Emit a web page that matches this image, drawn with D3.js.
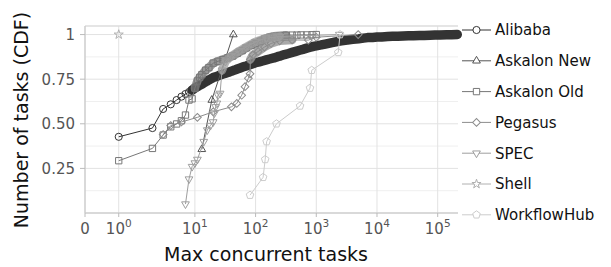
<!DOCTYPE html>
<html>
  <head>
    <meta charset="UTF-8">
    <script src="https://d3js.org/d3.v7.min.js"></script>
    <style>
      body { margin: 0; background: #fff; }
      text { font-family: "DejaVu Sans", sans-serif; }
      .grid line { stroke: #e2e2e2; stroke-width: 1; }
      .grid.minor line { stroke: #efefef; }
      .tick-label { fill: #555; font-size: 15px; }
    </style>
    <title>Max concurrent tasks CDF</title>
  </head>
  <body>
    <svg id="plot" width="611" height="267"></svg>
    <script>
      // series, in drawing order
      const seriesNames = ["Alibaba", "Askalon New", "Askalon Old", "Pegasus", "SPEC", "Shell", "WorkflowHub"];
      const seriesColors = ["#333333", "#555555", "#777777", "#8c8c8c", "#9e9e9e", "#b0b0b0", "#cccccc"];
      const seriesShapes = ["circle", "triangleUp", "square", "diamond", "triangleDown", "star", "pentagon"];
      // x range where a series has so many points that its markers merge into a band
      const denseRanges = [[9, 1e9], null, [10, 320], [82, 400], [28, 250], null, null];

      // [max concurrent tasks, CDF]
      const alibaba = [[1,.427],[2,.476],[3,.583],[4,.609],[5,.633],[6,.652],[7,.667],[8,.678],[9,.689],[10,.700],
        [11,.708],[12,.716],[13,.722],[14,.729],[15,.735],[16,.740],[18,.750],[20,.759],[22,.764],[24,.768],
        [27,.775],[30,.780],[33,.785],[36,.789],[40,.795],[45,.801],[50,.807],[56,.813],[63,.819],[70,.824],
        [80,.831],[90,.837],[100,.842],[115,.847],[130,.852],[150,.858],[170,.863],[200,.869],[230,.876],[260,.881],
        [300,.888],[350,.894],[400,.900],[460,.906],[530,.912],[600,.917],[700,.924],[800,.929],[900,.934],[1000,.937],
        [1200,.942],[1400,.947],[1600,.951],[1900,.956],[2200,.961],[2600,.965],[3000,.968],[3500,.971],[4000,.973],
        [5000,.977],[6000,.980],[7000,.983],[8500,.984],[10000,.986],[12000,.987],[15000,.989],[18000,.990],
        [22000,.991],[27000,.992],[33000,.993],[40000,.994],[50000,.995],[60000,.995],[75000,.996],[90000,.997],
        [110000,.998],[140000,.999],[170000,.999],[210000,1]];
      const askalonNew = [[13,.357],[19,.633],[43,1]];
      const askalonOld = [[1,.293],[2,.362],[3,.437],[4,.483],[5,.499],[6,.517],[7,.549],[8,.633],[9,.64],[10,.70],
        [11,.74],[12,.76],[13,.775],[15,.80],[17,.815],[20,.84],[24,.85],[29,.86],[35,.87],[42,.88],[50,.895],
        [60,.91],[70,.925],[85,.94],[100,.95],[120,.963],[140,.975],[170,.985],[200,.99],[250,.993],[320,.996],
        [400,.997],[480,.997],[560,.998],[700,.998],[850,.999],[1000,1]];
      const pegasus = [[3,.44],[4,.49],[6,.51],[11,.536],[20,.567],[40,.595],[49,.614],[59,.66],[67,.708],[76,.755],
        [81,.78],[82,.86],[90,.885],[110,.905],[140,.93],[180,.95],[250,.965],[400,.97],[740,.969],[1000,.985],[4900,1]];
      const spec = [[7,.05],[8,.19],[9,.26],[10,.28],[11,.30],[14,.40],[16,.465],[18,.49],[20,.51],[21,.56],[22,.595],
        [23,.615],[24,.66],[26,.67],[28,.80],[32,.85],[40,.88],[55,.91],[70,.93],[100,.96],[150,.98],
        [250,.99],[2400,1]];
      const shell = [[1,1]];
      const workflowHub = [[81,.1],[133,.2],[144,.3],[152,.4],[221,.5],[540,.6],[788,.7],[841,.8],[2300,.9],[2460,1]];
      const allSeries = [alibaba, askalonNew, askalonOld, pegasus, spec, shell, workflowHub];

      const xTicks = [0, 1, 10, 100, 1000, 10000, 100000];
      const yTicks = [0.25, 0.5, 0.75, 1];
      const yTickLabels = ["0.25", "0.50", "0.75", "1"];
      const yMinorTicks = [0.125, 0.375, 0.625, 0.875];

      const svg = d3.select("svg#plot");
      const margin = {top: 26, right: 153, bottom: 54, left: 85};
      const width = +svg.attr("width");
      const height = +svg.attr("height");
      const chartWidth = width - margin.left - margin.right;
      const chartHeight = height - margin.top - margin.bottom;

      // symlog like matplotlib, linthresh 2, linscale 1
      const linthresh = 2;
      const linscaleAdj = 1 / (1 - 1 / 10);
      function symlog(v) {
        if (v <= linthresh) return v * linscaleAdj;
        return linthresh * (linscaleAdj + Math.log10(v / linthresh));
      }
      const xMax = 216000;
      const xScale = d3.scaleLinear().domain([0, symlog(xMax)]).range([0, chartWidth]);
      const yScale = d3.scaleLinear().domain([0, 1.048]).range([chartHeight, 0]);
      const px = v => xScale(symlog(v));

      let plot = svg.append("g")
                    .attr("transform", "translate(" + margin.left + "," + margin.top + ")");

      // gridlines
      plot.append("g").attr("class", "grid minor")
          .selectAll("line").data(yMinorTicks).join("line")
          .attr("x1", 0).attr("x2", chartWidth)
          .attr("y1", d => yScale(d)).attr("y2", d => yScale(d));
      plot.append("g").attr("class", "grid")
          .selectAll("line").data(yTicks).join("line")
          .attr("x1", 0).attr("x2", chartWidth)
          .attr("y1", d => yScale(d)).attr("y2", d => yScale(d));
      plot.append("g").attr("class", "grid")
          .selectAll("line").data(xTicks.slice(1)).join("line")
          .attr("x1", d => px(d)).attr("x2", d => px(d))
          .attr("y1", 0).attr("y2", chartHeight);

      // spines
      plot.append("line").attr("x1", 0).attr("x2", chartWidth).attr("y1", 0).attr("y2", 0)
          .attr("stroke", "#dddddd").attr("stroke-width", 1.5);
      plot.append("line").attr("x1", 0).attr("x2", 0).attr("y1", 0).attr("y2", chartHeight)
          .attr("stroke", "#cccccc").attr("stroke-width", 1.5);
      plot.append("line").attr("x1", 0).attr("x2", chartWidth).attr("y1", chartHeight).attr("y2", chartHeight)
          .attr("stroke", "#cccccc").attr("stroke-width", 1.5);

      // x ticks
      let xt = plot.append("g").selectAll("g").data(xTicks).join("g")
          .attr("transform", d => "translate(" + px(d) + "," + chartHeight + ")");
      xt.append("line").attr("y1", 0).attr("y2", 4).attr("stroke", "#bbb");
      let xl = xt.append("text").attr("class", "tick-label").attr("text-anchor", "middle").attr("y", 20.5);
      xl.append("tspan").text(d => d === 0 ? "0" : "10");
      xl.filter(d => d > 0).append("tspan")
        .attr("dy", -7).attr("font-size", "10.5px")
        .text(d => Math.round(Math.log10(d)));

      // y ticks
      let yt = plot.append("g").selectAll("g").data(yTicks).join("g")
          .attr("transform", d => "translate(0," + yScale(d) + ")");
      yt.append("line").attr("x1", -5).attr("x2", 0).attr("stroke", "#bbb");
      yt.append("text").attr("class", "tick-label").attr("text-anchor", "end")
        .attr("x", -10).attr("dy", "0.36em")
        .text((d, i) => yTickLabels[i]);

      // markers
      function markerPath(shape) {
        if (shape === "circle") return d3.symbol(d3.symbolCircle, 40)();
        if (shape === "square") return d3.symbol(d3.symbolSquare, 40)();
        if (shape === "diamond") return d3.symbol(d3.symbolSquare, 30)();
        if (shape === "triangleUp" || shape === "triangleDown") return d3.symbol(d3.symbolTriangle, 26)();
        if (shape === "star") return d3.symbol(d3.symbolStar, 26)();
        let pts = d3.range(5).map(i => {
          let a = -Math.PI / 2 + i * 2 * Math.PI / 5;
          return [4 * Math.cos(a), 4 * Math.sin(a)];
        });
        return "M" + pts.join("L") + "Z";
      }
      function markerRotate(shape) {
        if (shape === "diamond") return 45;
        if (shape === "triangleDown") return 180;
        return 0;
      }

      const line = d3.line().x(d => px(d[0])).y(d => yScale(d[1]));

      allSeries.forEach((data, i) => {
        let g = plot.append("g");
        let dense = denseRanges[i];
        if (dense) {
          // merged markers of the dense part
          g.append("path").datum(data.filter(d => d[0] >= dense[0] && d[0] <= dense[1]))
           .attr("d", line)
           .attr("fill", "none")
           .attr("stroke", seriesColors[i])
           .attr("stroke-opacity", i === 0 ? 1 : 0.75)
           .attr("stroke-width", i === 0 ? 9.5 : 8.5)
           .attr("stroke-linejoin", "round")
           .attr("stroke-linecap", "round");
        }
        g.append("path").datum(data)
         .attr("d", line)
         .attr("fill", "none")
         .attr("stroke", seriesColors[i])
         .attr("stroke-width", 1);
        g.selectAll("path.mark").data(data).join("path")
         .attr("class", "mark")
         .attr("d", markerPath(seriesShapes[i]))
         .attr("transform", d => "translate(" + px(d[0]) + "," + yScale(d[1]) + ") rotate(" + markerRotate(seriesShapes[i]) + ")")
         .attr("fill", "none")
         .attr("stroke", seriesColors[i])
         .attr("stroke-width", 1);
      });

      // axis titles
      svg.append("text")
         .attr("x", 266).attr("y", 261)
         .attr("text-anchor", "middle")
         .attr("font-size", "19px").attr("fill", "#111")
         .text("Max concurrent tasks");
      svg.append("text")
         .attr("transform", "translate(28,120) rotate(-90)")
         .attr("text-anchor", "middle")
         .attr("font-size", "19px").attr("fill", "#111")
         .text("Number of tasks (CDF)");

      // legend
      let legend = svg.append("g").attr("transform", "translate(462,30)");
      let items = legend.selectAll("g").data(seriesNames).join("g")
          .attr("transform", (d, i) => "translate(0," + (i * 30.8) + ")");
      items.append("line").attr("x1", 0).attr("x2", 29)
           .attr("stroke", (d, i) => seriesColors[i]).attr("stroke-width", 1);
      items.append("path")
           .attr("d", (d, i) => markerPath(seriesShapes[i]))
           .attr("transform", (d, i) => "translate(14.5,0) rotate(" + markerRotate(seriesShapes[i]) + ")")
           .attr("fill", "#fff")
           .attr("stroke", (d, i) => seriesColors[i]);
      items.append("text").attr("x", 33).attr("dy", "0.36em")
           .attr("font-size", "15px").attr("fill", "#111")
           .text(d => d);
    </script>
  </body>
</html>
